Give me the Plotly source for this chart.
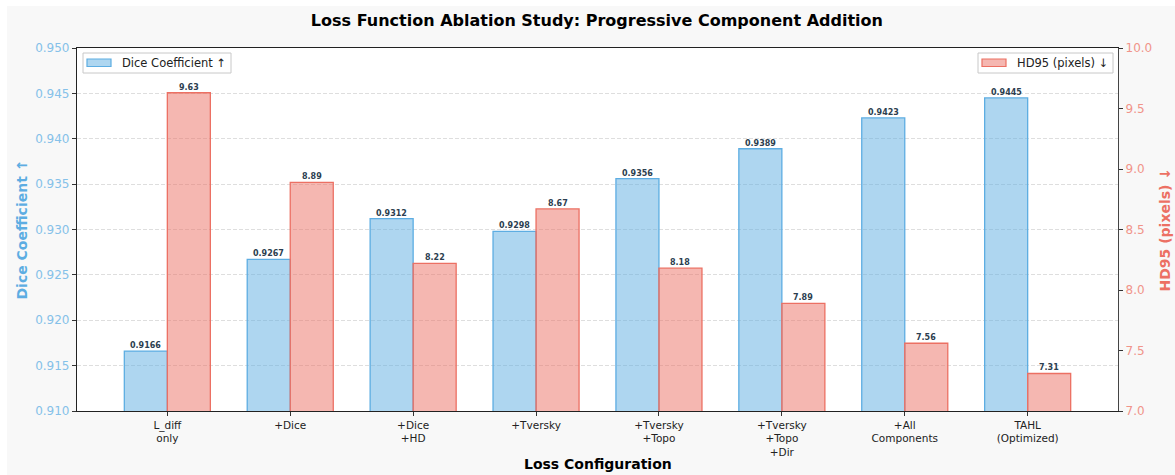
import plotly.graph_objects as go

configs = ["L_diff<br>only", "+Dice", "+Dice<br>+HD", "+Tversky", "+Tversky<br>+Topo",
           "+Tversky<br>+Topo<br>+Dir", "+All<br>Components", "TAHL<br>(Optimized)"]
dice = [0.9166, 0.9267, 0.9312, 0.9298, 0.9356, 0.9389, 0.9423, 0.9445]
hd95 = [9.63, 8.89, 8.22, 8.67, 8.18, 7.89, 7.56, 7.31]

dice_ticks = [0.910, 0.915, 0.920, 0.925, 0.930, 0.935, 0.940, 0.945, 0.950]
hd_ticks = [7.0, 7.5, 8.0, 8.5, 9.0, 9.5, 10.0]

BLUE_FILL = "rgba(93,173,226,0.5)"
BLUE_EDGE = "#5dade2"
BLUE_TICK = "#85c1e9"
RED_FILL = "rgba(236,112,99,0.5)"
RED_EDGE = "#ec7063"
RED_TICK = "#f1948a"
LABEL = "#2c3e50"
FONT = "DejaVu Sans"

W = 0.35
xs = list(range(len(configs)))

# plot area size in pixels, used to place legend boxes in paper units
PW, PH = 1041, 363

fig = go.Figure()
fig.add_trace(go.Bar(
    x=xs, y=dice, width=W, offset=-W, name="Dice Coefficient ↑",
    marker=dict(color=BLUE_FILL, line=dict(color=BLUE_EDGE, width=1.3)),
    yaxis="y", showlegend=False,
))
fig.add_trace(go.Bar(
    x=xs, y=hd95, width=W, offset=0, name="HD95 (pixels) ↓",
    marker=dict(color=RED_FILL, line=dict(color=RED_EDGE, width=1.3)),
    yaxis="y2", showlegend=False,
))

# value labels sitting on top of each bar
for i, v in enumerate(dice):
    fig.add_annotation(x=i - W / 2, y=v, xref="x", yref="y", text=f"<b>{v:.4f}</b>",
                       showarrow=False, yanchor="bottom", xanchor="center", borderpad=0,
                       font=dict(family=FONT, size=8, color=LABEL))
for i, v in enumerate(hd95):
    fig.add_annotation(x=i + W / 2, y=v, xref="x", yref="y2", text=f"<b>{v:.2f}</b>",
                       showarrow=False, yanchor="bottom", xanchor="center", borderpad=0,
                       font=dict(family=FONT, size=8, color=LABEL))

fig.update_layout(
    width=1175, height=475,
    margin=dict(l=77, r=57, t=48, b=64),
    paper_bgcolor="#f8f8f8", plot_bgcolor="white",
    font=dict(family=FONT, size=11, color="#222"),
    barmode="overlay", showlegend=False,
    title=dict(text="<b>Loss Function Ablation Study: Progressive Component Addition</b>",
               x=0.508, xanchor="center", y=0.958, yanchor="middle",
               font=dict(family=FONT, size=16, color="black")),
    xaxis=dict(
        range=[-0.735, 7.735], tickmode="array", tickvals=xs, ticktext=configs,
        ticks="outside", ticklen=4, tickcolor="#333", showgrid=False, zeroline=False,
        showline=True, linecolor="#222", linewidth=1.2, mirror=True, automargin=False,
        tickfont=dict(family=FONT, size=10.5, color="#222"),
    ),
    yaxis=dict(
        range=[0.910, 0.950], tickmode="array", tickvals=dice_ticks,
        ticktext=[f"{t:.3f}" for t in dice_ticks],
        ticks="outside", ticklen=4, tickcolor="#333", automargin=False,
        showgrid=True, gridcolor="rgba(0,0,0,0.13)", griddash="4px,2px", gridwidth=0.8,
        zeroline=False, showline=True, linecolor="#222", linewidth=1.2,
        tickfont=dict(family=FONT, size=12, color=BLUE_TICK),
    ),
    yaxis2=dict(
        range=[7.0, 10.0], tickmode="array", tickvals=hd_ticks,
        ticktext=[f"{t:.1f}" for t in hd_ticks],
        overlaying="y", side="right", showgrid=False, zeroline=False,
        ticks="outside", ticklen=4, tickcolor="#333", automargin=False,
        showline=True, linecolor="#444", linewidth=1.2,
        tickfont=dict(family=FONT, size=12, color=RED_TICK),
    ),
)

# axis titles
fig.add_annotation(text="<b>Loss Configuration</b>", xref="paper", yref="paper",
                   x=0.5, y=-53 / PH, xanchor="center", yanchor="middle", showarrow=False,
                   font=dict(family=FONT, size=14, color="black"))
fig.add_annotation(text="<b>Dice Coefficient ↑</b>", xref="paper", yref="paper",
                   x=-56 / PW, y=0.5, xanchor="center", yanchor="middle", showarrow=False,
                   textangle=-90, font=dict(family=FONT, size=14, color=BLUE_EDGE))
fig.add_annotation(text="<b>HD95 (pixels) ↓</b>", xref="paper", yref="paper",
                   x=1 + 46 / PW, y=0.5, xanchor="center", yanchor="middle", showarrow=False,
                   textangle=-90, font=dict(family=FONT, size=14, color=RED_EDGE))


def legend_box(x0, x1, label, fill, edge):
    """Framed legend entry: wide colour patch followed by its label (pixel offsets in the plot)."""
    top, bottom = 5, 25
    fig.add_shape(type="rect", xref="paper", yref="paper",
                  x0=x0 / PW, x1=x1 / PW, y0=1 - bottom / PH, y1=1 - top / PH,
                  fillcolor="rgba(255,255,255,0.9)", line=dict(color="#c8c8c8", width=1))
    fig.add_shape(type="rect", xref="paper", yref="paper",
                  x0=(x0 + 4) / PW, x1=(x0 + 28) / PW, y0=1 - 18.5 / PH, y1=1 - 11 / PH,
                  fillcolor=fill, line=dict(color=edge, width=1.2))
    fig.add_annotation(text=label, xref="paper", yref="paper", x=(x0 + 37) / PW,
                       y=1 - 15 / PH, xanchor="left", yanchor="middle", showarrow=False,
                       font=dict(family=FONT, size=11.5, color="#222"))


legend_box(6, 154, "Dice Coefficient ↑", BLUE_FILL, BLUE_EDGE)
legend_box(901, 1036, "HD95 (pixels) ↓", RED_FILL, RED_EDGE)

# white strip along the top and left edges of the page
fig.add_shape(type="rect", xref="paper", yref="paper", x0=-0.1, x1=1.1,
              y0=1.0 + 42 / PH, y1=1.3, fillcolor="white", line_width=0, layer="below")
fig.add_shape(type="rect", xref="paper", yref="paper", x0=-0.1, x1=-70 / PW,
              y0=-0.3, y1=1.3, fillcolor="white", line_width=0, layer="below")

fig.write_html("out.html")
